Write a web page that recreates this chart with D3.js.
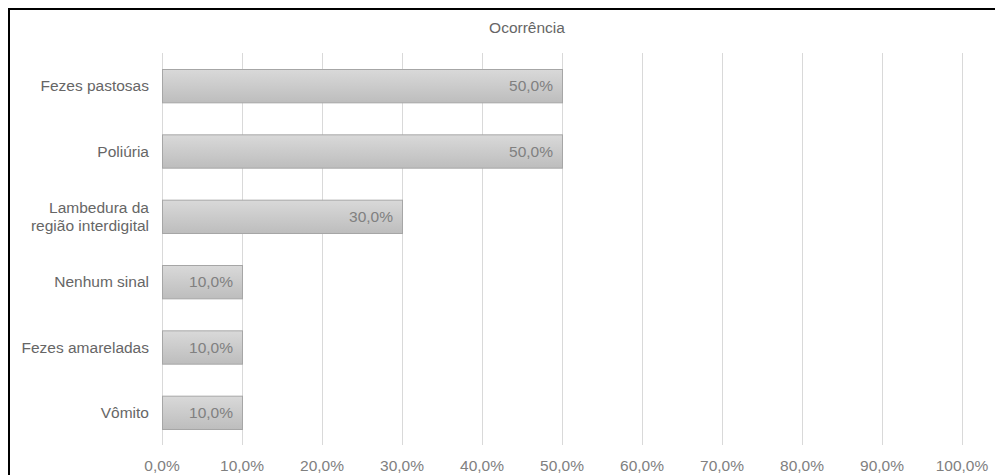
<!DOCTYPE html>
<html>
<head>
<meta charset="utf-8">
<script src="https://cdn.jsdelivr.net/npm/d3@7"></script>
<style>
  body { margin: 0; background: #fff; }
  svg { display: block; font-family: "Liberation Sans", Arial, sans-serif; }
</style>
</head>
<body>
<svg width="995" height="475"></svg>
<script>
// data
var categories = ["Fezes pastosas", "Poliúria", "Lambedura da\nregião interdigital", "Nenhum sinal", "Fezes amareladas", "Vômito"]
var values = [0.5, 0.5, 0.3, 0.1, 0.1, 0.1]
var ticks = [0, 0.1, 0.2, 0.3, 0.4, 0.5, 0.6, 0.7, 0.8, 0.9, 1.0]
var title = "Ocorrência"

var svg = d3.select("svg")
var fmt = function (v) { return (v * 100).toFixed(1).replace(".", ",") + "%" }
var fs = 15.5

// outer frame (runs off the right and bottom edge)
svg.append("rect")
    .attr("x", 9).attr("y", 9)
    .attr("width", 1000).attr("height", 500)
    .attr("fill", "none").attr("stroke", "#000").attr("stroke-width", 2)

var x = d3.scaleLinear().domain([0, 1]).range([162, 962])
var y = d3.scaleBand().domain(categories).range([53, 445]).paddingInner(0.49).paddingOuter(0.245)

var defs = svg.append("defs")
var grad = defs.append("linearGradient").attr("id", "barGrad")
    .attr("x1", 0).attr("y1", 0).attr("x2", 0).attr("y2", 1)
grad.append("stop").attr("offset", "0%").attr("stop-color", "#d9d9d9")
grad.append("stop").attr("offset", "100%").attr("stop-color", "#bdbdbd")

// gridlines
svg.append("g").selectAll("line")
    .data(ticks).enter()
    .append("line")
    .attr("x1", function (d) { return x(d) + 0.5 })
    .attr("x2", function (d) { return x(d) + 0.5 })
    .attr("y1", 53).attr("y2", 445)
    .attr("stroke", "#d9d9d9").attr("stroke-width", 1)

// tick labels
svg.append("g").selectAll("text")
    .data(ticks).enter()
    .append("text")
    .attr("x", function (d) { return x(d) })
    .attr("y", 471)
    .attr("text-anchor", "middle")
    .attr("font-size", fs)
    .attr("fill", "#808080")
    .text(fmt)

// bars
svg.append("g").selectAll("rect")
    .data(values).enter()
    .append("rect")
    .attr("x", x(0) + 0.5)
    .attr("y", function (d, i) { return y(categories[i]) + 0.5 })
    .attr("width", function (d) { return x(d) - x(0) })
    .attr("height", y.bandwidth())
    .attr("fill", "url(#barGrad)")
    .attr("stroke", "#a6a6a6").attr("stroke-width", 1)

// value labels
svg.append("g").selectAll("text")
    .data(values).enter()
    .append("text")
    .attr("x", function (d) { return x(d) - 9 })
    .attr("y", function (d, i) { return y(categories[i]) + y.bandwidth() / 2 + 5.5 })
    .attr("text-anchor", "end")
    .attr("font-size", fs)
    .attr("fill", "#808080")
    .text(fmt)

// category labels
var cat = svg.append("g").selectAll("text")
    .data(categories).enter()
    .append("text")
    .attr("text-anchor", "end")
    .attr("font-size", fs)
    .attr("fill", "#666")
    .attr("y", function (d) { return y(d) + y.bandwidth() / 2 + 5.5 })
cat.each(function (d) {
    var lines = d.split("\n")
    var t = d3.select(this)
    lines.forEach(function (l, k) {
        t.append("tspan")
            .attr("x", 149)
            .attr("dy", k === 0 ? -(lines.length - 1) * 9 : 18)
            .text(l)
    })
})

// title
svg.append("text")
    .attr("x", 527).attr("y", 33)
    .attr("text-anchor", "middle")
    .attr("font-size", fs)
    .attr("fill", "#666")
    .text(title)
</script>
</body>
</html>
